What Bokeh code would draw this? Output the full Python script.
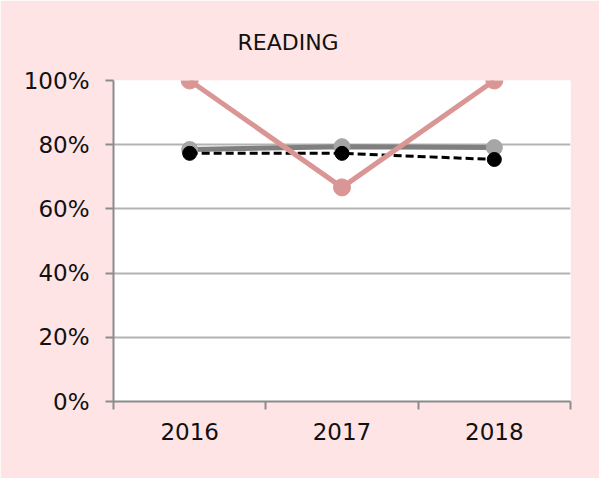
from bokeh.plotting import figure
from bokeh.models import FixedTicker, NumeralTickFormatter, Range1d, Title
from bokeh.embed import file_html
from bokeh.resources import INLINE

years = ["2016", "2017", "2018"]
school = [1.00, 0.667, 1.00]
district = [0.785, 0.794, 0.791]
state = [0.773, 0.773, 0.754]
y_ticks = [0, 0.2, 0.4, 0.6, 0.8, 1.0]

xs = [i + 0.5 for i in range(len(years))]

FONT = "DejaVu Sans"
PINK_BG = "#fee4e4"

p = figure(width=599, height=478, output_backend="svg", toolbar_location=None,
           x_range=Range1d(0, len(years)), y_range=Range1d(0, 1),
           min_border_left=113, min_border_right=29, min_border_top=80,
           min_border_bottom=77, title=None)
p.border_fill_color = PINK_BG
p.background_fill_color = "white"
p.outline_line_color = None

t = Title(text="READING", align="left", offset=124, standoff=52,
          text_font=FONT, text_font_size="22px", text_font_style="normal",
          text_color="#111111")
p.add_layout(t, "above")

# x axis
p.xaxis.ticker = FixedTicker(ticks=xs, minor_ticks=list(range(len(years) + 1)))
p.xaxis.major_label_overrides = {x: y for x, y in zip(xs, years)}
p.xaxis.major_tick_out = 0
p.xaxis.major_tick_in = 0
p.xaxis.minor_tick_out = 8
p.xaxis.minor_tick_in = 0
p.xaxis.minor_tick_line_color = "#8c8c8c"
p.xaxis.minor_tick_line_width = 2
p.xaxis.major_label_standoff = 13

# y axis
p.yaxis.ticker = FixedTicker(ticks=y_ticks, minor_ticks=[])
p.yaxis.formatter = NumeralTickFormatter(format="0%")
p.yaxis.major_tick_out = 8
p.yaxis.major_tick_in = 0
p.yaxis.major_tick_line_color = "#8c8c8c"
p.yaxis.major_tick_line_width = 2
p.yaxis.major_label_standoff = 16

for ax in (p.xaxis, p.yaxis):
    ax.axis_line_color = "#8c8c8c"
    ax.axis_line_width = 2
    ax.major_label_text_font = FONT
    ax.major_label_text_font_size = "23px"
    ax.major_label_text_color = "#111111"

p.xgrid.grid_line_color = None
p.ygrid.ticker = FixedTicker(ticks=y_ticks)
p.ygrid.grid_line_color = "#b3b3b3"
p.ygrid.grid_line_width = 2

# series
p.line(xs, district, line_color="#7f7f7f", line_width=5)
p.scatter(xs, district, size=16, fill_color="#a6a6a6", line_color="#a6a6a6")
p.line(xs, state, line_color="black", line_width=3, line_dash="8 4")
p.scatter(xs, state, size=14, fill_color="black", line_color="black")
p.line(xs, school, line_color="#d99694", line_width=5)
p.scatter(xs, school, size=17, fill_color="#d99694", line_color="#d99694")

open("out.html", "w").write(file_html(p, INLINE))
